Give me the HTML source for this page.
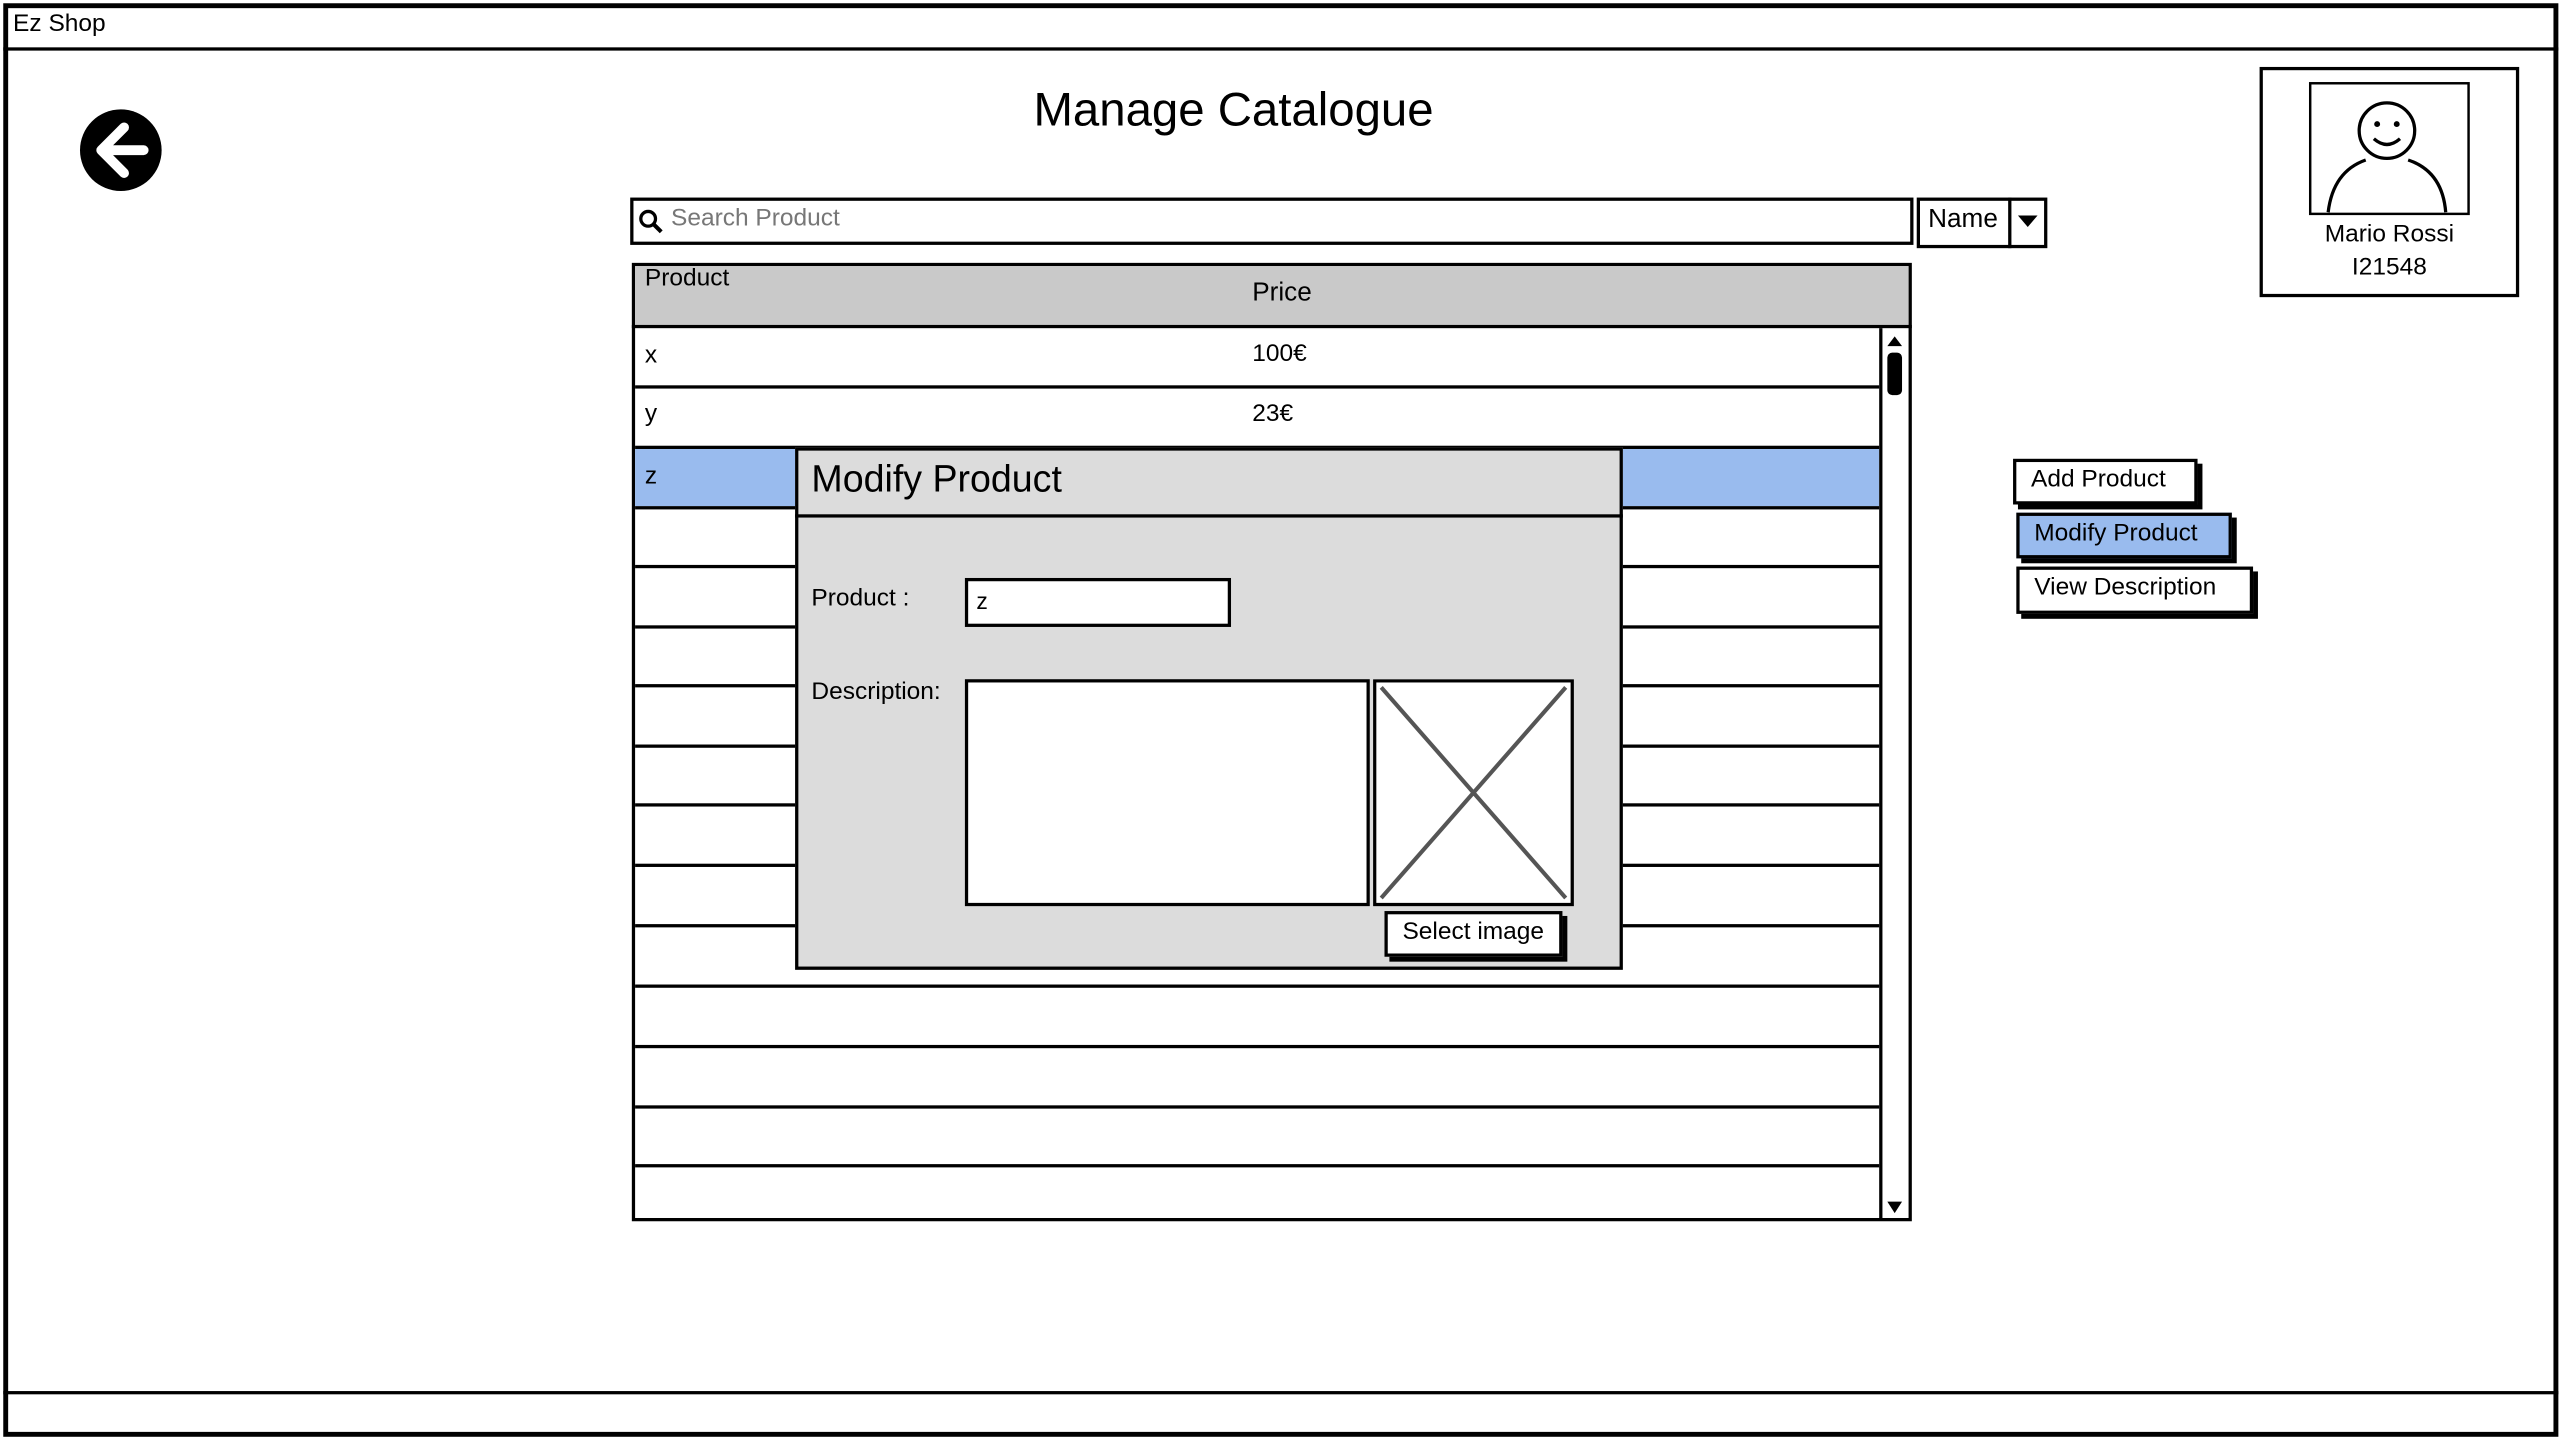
<!DOCTYPE html>
<html><head><meta charset="utf-8"><style>
html,body{margin:0;padding:0;width:2560px;height:1440px;overflow:hidden;background:#fff}
#s{position:absolute;left:0;top:0;width:1568px;height:882px;transform:scale(1.63265,1.6327);transform-origin:0 0;font-family:"Liberation Sans",sans-serif;color:#000}
.a{position:absolute;box-sizing:border-box}
.t{position:absolute;white-space:nowrap}
.line{position:absolute;height:2px;background:#000}
.btn{position:absolute;box-sizing:border-box;border:2px solid #000;background:#fff;font-size:15px;padding:2px 0 0 9px;box-shadow:3px 3px 0 #000}
</style></head><body><div id="s">
<div class="a" style="left:2px;top:2px;width:1565px;height:878px;border:3px solid #000"></div>
<div class="line" style="left:2px;top:29px;width:1565px"></div>
<div class="t" style="left:8px;top:6px;font-size:15px">Ez Shop</div>
<div class="line" style="left:2px;top:852px;width:1565px"></div>
<svg class="a" style="left:48px;top:66px" width="53" height="53"><circle cx="26" cy="26" r="25" fill="#000"/><path d="M28 12 L14 26 L28 40 M14 26 H40" stroke="#fff" stroke-width="6" fill="none" stroke-linejoin="round" stroke-linecap="round"/></svg>
<div class="t" style="left:633px;top:52px;font-size:29px">Manage Catalogue</div>
<div class="a" style="left:386px;top:121px;width:786px;height:29px;border:2px solid #000"></div>
<svg class="a" style="left:391px;top:128px" width="16" height="16"><circle cx="6" cy="6" r="4.5" stroke="#000" stroke-width="2" fill="none"/><path d="M9 9 L14 14" stroke="#000" stroke-width="2.5"/></svg>
<div class="t" style="left:411px;top:125px;font-size:15px;color:#777">Search Product</div>
<div class="a" style="left:1174px;top:121px;width:80px;height:31px;border:2px solid #000"></div>
<div class="a" style="left:1230px;top:121px;width:2px;height:31px;background:#000"></div>
<div class="t" style="left:1181px;top:126px;font-size:16px">Name</div>
<svg class="a" style="left:1236px;top:132px" width="12" height="8"><path d="M0 0H12L6 7Z"/></svg>
<div class="a" style="left:387px;top:161px;width:784px;height:587px;border:2px solid #000"></div>
<div class="a" style="left:389px;top:163px;width:780px;height:36px;background:#c9c9c9"></div>
<div class="line" style="left:387px;top:199px;width:784px"></div>
<div class="t" style="left:395px;top:162px;font-size:15px">Product</div>
<div class="t" style="left:767px;top:171px;font-size:16px">Price</div>
<div class="a" style="left:389px;top:275px;width:762px;height:35px;background:#99bbee"></div>
<div class="line" style="left:389px;top:236px;width:762px"></div>
<div class="line" style="left:389px;top:273px;width:762px"></div>
<div class="line" style="left:389px;top:310px;width:762px"></div>
<div class="line" style="left:389px;top:346px;width:762px"></div>
<div class="line" style="left:389px;top:383px;width:762px"></div>
<div class="line" style="left:389px;top:419px;width:762px"></div>
<div class="line" style="left:389px;top:456px;width:762px"></div>
<div class="line" style="left:389px;top:492px;width:762px"></div>
<div class="line" style="left:389px;top:529px;width:762px"></div>
<div class="line" style="left:389px;top:566px;width:762px"></div>
<div class="line" style="left:389px;top:603px;width:762px"></div>
<div class="line" style="left:389px;top:640px;width:762px"></div>
<div class="line" style="left:389px;top:677px;width:762px"></div>
<div class="line" style="left:389px;top:713px;width:762px"></div>
<div class="t" style="left:395px;top:209px;font-size:15px">x</div>
<div class="t" style="left:767px;top:208px;font-size:15px">100€</div>
<div class="t" style="left:395px;top:245px;font-size:15px">y</div>
<div class="t" style="left:767px;top:245px;font-size:15px">23€</div>
<div class="t" style="left:395px;top:283px;font-size:15px">z</div>
<div class="a" style="left:1151px;top:201px;width:2px;height:546px;background:#000"></div>
<svg class="a" style="left:1154px;top:203px" width="13" height="544"><path d="M2 9L6.5 3L11 9Z"/><rect x="2" y="13" width="9" height="26" rx="3"/><path d="M2 533L6.5 540L11 533Z"/></svg>
<div class="a" style="left:487px;top:274px;width:507px;height:320px;border:2px solid #000;background:#dcdcdc"></div>
<div class="line" style="left:487px;top:315px;width:507px"></div>
<div class="t" style="left:497px;top:280px;font-size:23px">Modify Product</div>
<div class="t" style="left:497px;top:358px;font-size:15px">Product :</div>
<div class="a" style="left:591px;top:354px;width:163px;height:30px;border:2px solid #000;background:#fff"></div>
<div class="t" style="left:598px;top:360px;font-size:14px">z</div>
<div class="t" style="left:497px;top:415px;font-size:15px">Description:</div>
<div class="a" style="left:591px;top:416px;width:248px;height:139px;border:2px solid #000;background:#fff"></div>
<svg class="a" style="left:841px;top:416px" width="124" height="140"><rect x="1" y="1" width="121" height="137" fill="#fff" stroke="#000" stroke-width="2"/><path d="M5 5L118 134M118 5L5 134" stroke="#555" stroke-width="2.5"/></svg>
<div class="btn" style="left:848px;top:558px;width:109px;height:28px">Select image</div>
<div class="btn" style="left:1233px;top:281px;width:113px;height:28px">Add Product</div>
<div class="btn" style="left:1235px;top:314px;width:132px;height:28px;background:#99bbee">Modify Product</div>
<div class="btn" style="left:1235px;top:347px;width:145px;height:29px">View Description</div>
<div class="a" style="left:1384px;top:41px;width:159px;height:141px;border:2px solid #000"></div>
<svg class="a" style="left:1414px;top:50px" width="100" height="83"><rect x="1" y="1" width="97" height="80" fill="#fff" stroke="#000" stroke-width="1.5"/><circle cx="48" cy="30" r="17" fill="none" stroke="#000" stroke-width="2"/><circle cx="42" cy="26" r="1.8"/><circle cx="54" cy="26" r="1.8"/><path d="M40 35Q48 42 56 35" fill="none" stroke="#000" stroke-width="2"/><path d="M12 80Q15 55 35 48M61 48Q82 55 84 80" fill="none" stroke="#000" stroke-width="2"/></svg>
<div class="t" style="left:1384px;width:159px;text-align:center;top:135px;font-size:15px">Mario Rossi</div>
<div class="t" style="left:1384px;width:159px;text-align:center;top:155px;font-size:15px">I21548</div>
</div></body></html>
